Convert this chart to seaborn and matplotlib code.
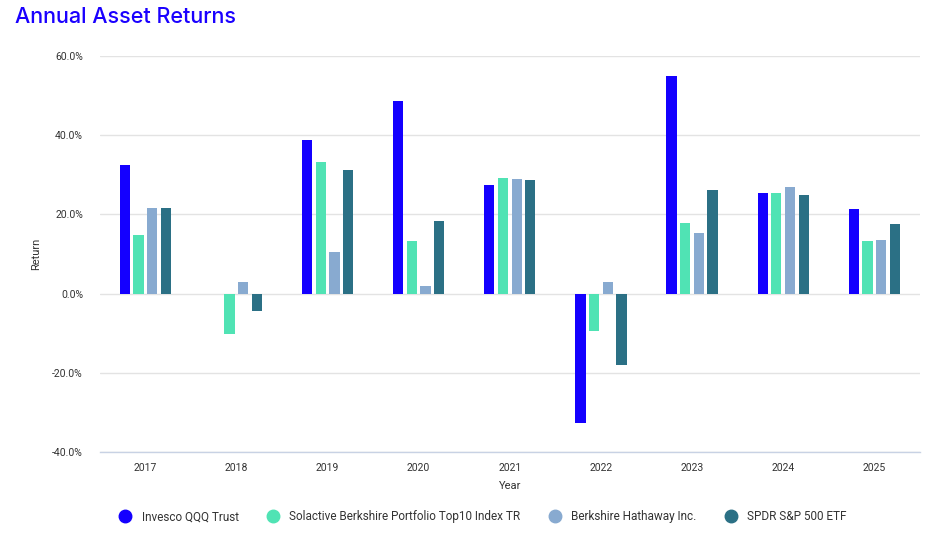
import pandas as pd
import numpy as np
import matplotlib.pyplot as plt
import seaborn as sns
from matplotlib.ticker import FuncFormatter
from matplotlib.lines import Line2D

# Data
years = ['2017', '2018', '2019', '2020', '2021', '2022', '2023', '2024', '2025']
assets = ['Invesco QQQ Trust', 'Solactive Berkshire Portfolio Top10 Index TR',
          'Berkshire Hathaway Inc.', 'SPDR S&P 500 ETF']
qqq = [32.4, -0.1, 38.7, 48.6, 27.3, -32.6, 54.9, 25.3, 21.3]
solactive = [14.7, -10.1, 33.2, 13.2, 29.1, -9.4, 17.7, 25.3, 13.2]
brk = [21.5, 2.8, 10.6, 2.0, 28.9, 3.0, 15.2, 26.8, 13.4]
spy = [21.5, -4.5, 31.1, 18.2, 28.6, -18.0, 26.1, 24.8, 17.5]
colors = ['#1400ff', '#50e3b4', '#88aad0', '#2b7085']

df = pd.DataFrame({'Year': years * 4,
                   'Asset': np.repeat(assets, len(years)),
                   'Return': qqq + solactive + brk + spy})

sns.set_theme(style='white')
plt.rcParams['font.family'] = ['Roboto', 'DejaVu Sans']

fig = plt.figure(figsize=(9.32, 5.43), dpi=100)
ax = fig.add_axes([0.107, 0.1676, 0.88, 0.7294])

sns.barplot(data=df, x='Year', y='Return', hue='Asset', hue_order=assets,
            palette=colors, width=0.6, gap=0.25, saturation=1,
            linewidth=0, ax=ax, legend=False, zorder=3)

ax.set_ylim(-40, 60)
ax.set_yticks(np.arange(-40, 61, 20))
ax.yaxis.set_major_formatter(FuncFormatter(lambda v, p: f'{v:.1f}%'))
ax.grid(axis='y', color='#e3e3e3', linewidth=1, zorder=0)
for s in ['top', 'right', 'left']:
    ax.spines[s].set_visible(False)
ax.spines['bottom'].set_color('#c8d2e4')
ax.spines['bottom'].set_linewidth(1)
ax.tick_params(axis='both', length=0, labelsize=7.5, colors='#333333', pad=8)
ax.tick_params(axis='y', pad=12)
ax.set_xlabel('Year', fontsize=8, color='#333333', labelpad=6)
ax.set_ylabel('Return', fontsize=8, color='#333333', labelpad=6)
ax.yaxis.set_label_coords(-0.072, 0.5)

fig.text(0.016, 0.968, 'Annual Asset Returns', color='#1a00ff', fontsize=15.5,
         family=['Inter', 'DejaVu Sans'], weight='medium', va='center', ha='left')

handles = [Line2D([], [], marker='o', linestyle='', markersize=9,
                  markerfacecolor=c, markeredgecolor=c) for c in colors]
fig.legend(handles, assets, loc='center', bbox_to_anchor=(0.515, 0.048), ncol=4,
           frameon=False, fontsize=8.5, handletextpad=0.4, columnspacing=1.9,
           labelcolor='#333333')

fig.savefig('out.png', dpi=100)
